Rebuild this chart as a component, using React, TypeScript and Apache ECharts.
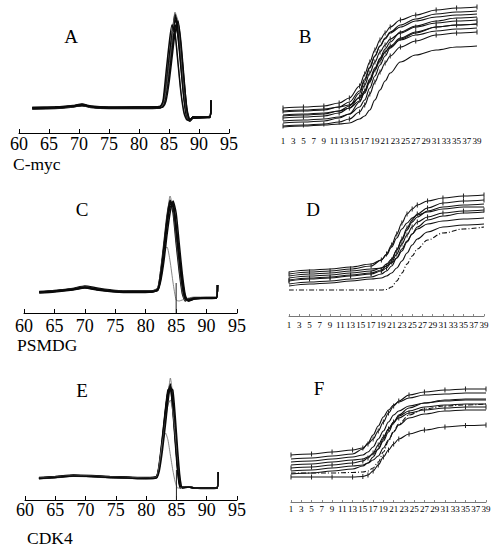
import React, { useEffect, useRef } from "react";
import * as echarts from "echarts";

// ---------- axis / marker constants ----------
const meltMin = 60;
const meltMax = 95;
const meltStep = 5;
const markerTemp = 85;
const markerHeight = 30;
const cycleMax = 39;

const panelLetters = ["A", "B", "C", "D", "E", "F"];
const geneNames = ["C-myc", "PSMDG", "CDK4"];

// ---------- melt curves (value = signal above axis) ----------
const tempsA = [62.2, 66, 69, 70.5, 72, 75, 80, 83.5, 84, 84.5, 85, 85.5, 86, 86.5, 87, 87.5, 88, 88.5, 89, 91.8, 92];
const curvesA = [
  [25, 25.5, 27, 28.5, 26.5, 25.5, 25.5, 26, 28, 45, 68, 93, 117, 104, 72, 40, 16, 13, 16, 16, 33],
  [24.5, 25, 26.5, 28, 26, 25, 25, 25.5, 27, 40, 62, 88, 112, 108, 80, 48, 20, 12, 15, 16, 32],
  [25.5, 26, 27.5, 29, 27, 26, 26, 26.5, 30, 50, 75, 100, 114, 96, 64, 33, 14, 12, 16, 16.5, 33],
  [24, 24.5, 26, 27.5, 25.5, 24.5, 24.5, 25, 27, 38, 58, 82, 106, 110, 86, 52, 24, 13, 15, 15.5, 32],
  [25, 25, 27, 28, 26, 25, 25, 25.5, 28.5, 46, 70, 96, 119, 108, 76, 42, 17, 12.5, 15.5, 16, 33],
  [25, 25.5, 26.5, 27.5, 26, 25, 25.5, 26, 29, 48, 72, 95, 108, 98, 68, 36, 15, 13, 16, 16, 33],
  [25, 25, 26, 27, 25.5, 25, 25, 25.5, 30, 55, 85, 102, 98, 70, 40, 22, 14, 13, 15.5, 16, 33],
  [25, 25.5, 27, 28, 26, 25.5, 25.5, 26, 27.5, 42, 66, 92, 121, 112, 78, 44, 18, 12, 15.5, 16, 33],
  [24.5, 25, 26.5, 27.5, 26, 25, 25, 25.5, 26, 32, 50, 75, 100, 112, 90, 55, 22, 13, 15, 16, 32],
  [25.5, 26, 27, 28.5, 26.5, 25.5, 26, 26.5, 32, 60, 88, 108, 100, 70, 40, 20, 13, 13, 16, 16, 33],
];
const greyA = [6, 7];

const tempsC = [62.5, 65, 68, 70, 72, 75, 78, 81, 82, 82.5, 83, 83.5, 84, 84.5, 85, 85.5, 86, 86.5, 87, 88, 90, 91.6, 91.8];
const curvesC = [
  [21, 22, 24, 26, 24, 22, 21.5, 21.5, 24, 40, 65, 92, 111, 105, 78, 50, 25, 13, 14, 15, 15, 15, 28],
  [20.5, 21.5, 23.5, 25.5, 23.5, 21.5, 21, 21, 23, 36, 60, 88, 108, 110, 85, 56, 30, 15, 13, 14.5, 15, 15, 28],
  [21.5, 22.5, 24.5, 27, 25, 22.5, 22, 22, 25, 44, 70, 97, 113, 100, 70, 42, 20, 12, 14, 15, 15.5, 15.5, 28],
  [21, 22, 24, 26.5, 24, 22, 21.5, 21.5, 24.5, 42, 68, 95, 117, 104, 74, 46, 22, 12, 13.5, 15, 15, 15, 28],
  [20, 21, 23, 25, 23, 21, 20.5, 21, 23.5, 38, 62, 90, 106, 107, 88, 60, 34, 16, 12, 14, 14.5, 15, 28],
  [21, 22, 24, 26, 24, 22, 21.5, 21.5, 26, 45, 62, 66, 52, 30, 13, 12, 13, 14, 15, 16, 16, 16, 28],
  [21, 22, 23.5, 25.5, 23.5, 21.5, 21, 21.5, 24, 41, 66, 93, 112, 108, 82, 54, 28, 14, 13, 15, 15, 15, 28],
  [21, 22, 24, 26, 24, 22, 21.5, 21.5, 23, 33, 52, 78, 100, 112, 100, 70, 40, 18, 12, 14, 15, 15, 28],
];
const greyC = [3, 5];

const tempsE = [62.3, 65, 68, 71, 74, 77, 80, 81.7, 82.2, 82.7, 83.2, 83.6, 84, 84.4, 84.8, 85.2, 85.6, 86, 87, 88, 90, 91.7, 91.9];
const curvesE = [
  [22, 23, 24.5, 24, 23, 22.5, 22, 23, 35, 60, 88, 108, 116, 96, 64, 34, 14, 13, 13, 12, 12, 12.5, 28],
  [21, 22, 23.5, 23, 22, 21.5, 21, 22, 32, 55, 82, 104, 122, 104, 72, 40, 17, 12, 13, 12, 11.5, 12, 28],
  [22.5, 23.5, 25, 24.5, 23.5, 23, 22.5, 23.5, 38, 64, 92, 110, 112, 90, 58, 28, 12, 13, 13, 12, 12, 12, 28],
  [21.5, 22.5, 24, 23.5, 22.5, 22, 21.5, 22.5, 34, 58, 85, 104, 114, 100, 70, 38, 16, 12, 13, 12, 11.5, 12, 28],
  [22, 23, 24.5, 24, 23, 22.5, 22, 23, 36, 62, 90, 107, 110, 92, 62, 32, 13, 13, 13, 12, 12, 12, 28],
  [21.5, 22.5, 24, 23.5, 22.5, 22, 21.5, 22.5, 38, 58, 67, 60, 45, 30, 18, 12, 12, 13, 13, 12, 12, 12, 28],
  [22, 23, 24.5, 24, 23, 22.5, 22, 23, 34, 56, 80, 95, 100, 88, 66, 42, 22, 12, 13, 12, 12, 12, 28],
  [21.5, 22.5, 24, 23.5, 22.5, 22, 21.5, 22, 30, 50, 76, 98, 112, 110, 84, 50, 22, 12, 13, 12, 12, 12, 28],
];
const greyE = [1, 5, 6];

// ---------- amplification curves ----------
const cyclesB = [1, 5, 9, 12, 14, 16, 17, 18, 19, 20, 21, 22, 24, 27, 31, 35, 39];
const curvesB = [
  [24, 25, 26, 29, 34, 46, 58, 70, 82, 92, 99, 105, 112, 117, 122, 124, 125],
  [20, 21, 22, 25, 30, 41, 53, 65, 76, 86, 93, 99, 105, 111, 115, 117, 118],
  [17, 18, 19, 21, 24, 31, 39, 50, 62, 74, 83, 90, 100, 106, 111, 114, 115],
  [14, 15, 16, 19, 24, 35, 47, 59, 70, 80, 87, 93, 99, 105, 109, 111, 112],
  [11, 12, 13, 15, 18, 25, 32, 44, 56, 67, 76, 84, 93, 99, 105, 107, 108],
  [9, 10, 11, 14, 18, 30, 41, 53, 64, 73, 80, 85, 92, 97, 101, 103, 104],
  [6, 7, 8, 10, 13, 20, 27, 38, 50, 60, 69, 76, 85, 91, 97, 99, 100],
  [5, 6, 7, 8, 9, 13, 16, 22, 32, 42, 51, 59, 70, 77, 82, 85, 86],
  [16, 17, 18, 21, 26, 39, 51, 64, 76, 86, 94, 100, 107, 113, 118, 120, 121],
  [21, 22, 23, 25, 27, 34, 41, 51, 62, 71, 80, 86, 94, 100, 105, 107, 108],
];
const marksB = [0, 3, 6, 9];

const cyclesD = [1, 5, 9, 13, 17, 19, 20, 21, 22, 23, 24, 25, 26, 28, 31, 35, 39];
const curvesD = [
  [42, 44, 45, 47, 50, 56, 62, 71, 82, 93, 102, 107, 111, 115, 118, 120, 121],
  [38, 40, 41, 43, 45, 48, 52, 57, 66, 76, 86, 94, 99, 105, 109, 111, 112],
  [35, 37, 38, 40, 42, 45, 48, 54, 62, 72, 81, 89, 94, 99, 103, 105, 106],
  [40, 42, 43, 45, 47, 48, 50, 53, 58, 65, 74, 82, 89, 96, 100, 103, 104],
  [32, 34, 35, 37, 39, 42, 45, 50, 58, 67, 75, 82, 87, 92, 95, 97, 98],
  [44, 46, 47, 49, 52, 56, 61, 69, 78, 87, 93, 98, 101, 104, 107, 109, 109],
  [26, 26, 26, 26, 26, 26, 26.5, 29, 35, 43, 52, 60, 67, 76, 83, 87, 89],
  [36, 38, 39, 41, 43, 46, 50, 56, 66, 77, 88, 96, 102, 108, 113, 115, 116],
  [30, 32, 33, 35, 37, 38, 40, 43, 48, 55, 63, 71, 77, 84, 89, 91, 92],
];
const marksD = [0, 2, 7];
const dashD = [6];

const cyclesF = [1, 5, 9, 13, 15, 16, 17, 18, 19, 20, 21, 22, 24, 27, 31, 35, 39];
const curvesF = [
  [47, 48, 50, 52, 54, 58, 63, 71, 80, 89, 96, 101, 107, 110, 112, 113, 113],
  [43, 44, 46, 48, 53, 59, 67, 76, 85, 92, 97, 100, 104, 107, 108, 109, 109],
  [40, 41, 43, 45, 47, 50, 55, 63, 71, 80, 87, 91, 96, 99, 101, 102, 102],
  [37, 38, 40, 42, 43, 45, 48, 53, 61, 70, 79, 87, 94, 99, 102, 103, 103],
  [34, 35, 37, 39, 41, 44, 49, 57, 65, 73, 80, 84, 89, 92, 94, 95, 95],
  [31, 32, 34, 36, 37, 39, 42, 46, 54, 62, 70, 77, 84, 88, 91, 92, 92],
  [28, 29, 31, 33, 36, 39, 45, 53, 63, 73, 80, 86, 91, 95, 97, 98, 98],
  [25, 25, 25, 25, 25.5, 27, 31, 37, 45, 52, 58, 63, 68, 72, 75, 76.5, 77],
  [29, 29, 29, 29.5, 30, 31, 34, 40, 50, 61, 71, 78, 87, 93, 96, 97, 98],
];
const marksF = [0, 4, 7];
const dashF = [8];

// ---------- layout ----------
const SERIF = '"Liberation Serif", "Times New Roman", "DejaVu Serif", serif';
const grids = [
  { left: 19, top: 10, width: 210, height: 123 }, // A
  { left: 283, top: 2, width: 194, height: 130 }, // B
  { left: 24, top: 190, width: 213, height: 123 }, // C
  { left: 289, top: 186, width: 195, height: 130 }, // D
  { left: 25, top: 377, width: 212, height: 123 }, // E
  { left: 291, top: 372, width: 195, height: 130 }, // F
];
const meltLabelMargin = [2, 0, 4, 0, 1, 0];
const ampLabelMargin = [0, 4, 0, 4, 0, 2];
const letterPos = [
  [71, 36], [305, 36], [82, 209], [313, 209], [82, 390], [319, 388],
];
const genePos = [
  [13, 164], [17, 345], [27, 538],
];

function meltSeries(gi: number, temps: number[], curves: number[][], grey: number[]) {
  return curves.map((vals, ci) => ({
    type: "line",
    xAxisIndex: gi,
    yAxisIndex: gi,
    data: temps.map((t, i) => [t, vals[i]]),
    showSymbol: false,
    symbol: "none",
    smooth: 0.2,
    silent: true,
    lineStyle: {
      color: grey.includes(ci) ? "#6a6a6a" : "#0a0a0a",
      width: grey.includes(ci) ? 0.8 : 1.5,
    },
  }));
}

function ampSeries(gi: number, cycles: number[], curves: number[][], marks: number[], dash: number[]) {
  return curves.map((vals, ci) => ({
    type: "line",
    xAxisIndex: gi,
    yAxisIndex: gi,
    data: cycles.map((c, i) => [c - 1, vals[i]]),
    symbol: "rect",
    symbolSize: [1, 5],
    showSymbol: marks.includes(ci),
    itemStyle: { color: "#222" },
    smooth: 0.35,
    smoothMonotone: "x",
    silent: true,
    lineStyle: {
      color: "#111",
      width: 1.1,
      type: dash.includes(ci) ? [5, 2, 1, 2] : "solid",
    },
  }));
}

function markerSeries(gi: number) {
  return {
    type: "line",
    xAxisIndex: gi,
    yAxisIndex: gi,
    data: [
      [markerTemp, 0],
      [markerTemp, markerHeight],
    ],
    symbol: "none",
    silent: true,
    lineStyle: { color: "#222", width: 1 },
  };
}

export default function App() {
  const ref = useRef<HTMLDivElement>(null);

  useEffect(() => {
    if (!ref.current) return;
    const chart = echarts.init(ref.current, null, { renderer: "svg" });

    const xAxis = grids.map((_, gi) => {
      const melt = gi % 2 === 0;
      if (melt) {
        return {
          type: "value",
          gridIndex: gi,
          min: meltMin,
          max: meltMax,
          interval: meltStep,
          axisLine: { show: true, lineStyle: { color: "#000", width: 1 } },
          axisTick: { show: true, inside: true, length: 4, lineStyle: { color: "#000" } },
          axisLabel: {
            color: "#000",
            fontFamily: SERIF,
            fontSize: 18,
            margin: meltLabelMargin[gi],
          },
          splitLine: { show: false },
        };
      }
      return {
        type: "value",
        gridIndex: gi,
        min: 0,
        max: cycleMax - 1,
        interval: 2,
        axisLine: { show: gi !== 1, lineStyle: { color: "#777", width: 1 } },
        axisTick: { show: gi !== 1, inside: true, length: 2, lineStyle: { color: "#888" } },
        axisLabel: {
          color: "#000",
          fontFamily: SERIF,
          fontSize: 9,
          margin: ampLabelMargin[gi],
          formatter: (v: number) => String(Math.round(v) + 1),
        },
        splitLine: { show: false },
      };
    });

    const yAxis = grids.map((g, gi) => ({
      type: "value",
      gridIndex: gi,
      min: 0,
      max: g.height,
      show: false,
      splitLine: { show: false },
    }));

    const graphic: any[] = [];
    panelLetters.forEach((t, i) => {
      graphic.push({
        type: "text",
        x: letterPos[i][0],
        y: letterPos[i][1],
        silent: true,
        style: {
          text: t,
          fontFamily: SERIF,
          fontSize: 19,
          fill: "#000",
          align: "center",
          verticalAlign: "middle",
          textAlign: "center",
          textVerticalAlign: "middle",
        },
      });
    });
    geneNames.forEach((t, i) => {
      graphic.push({
        type: "text",
        x: genePos[i][0],
        y: genePos[i][1],
        silent: true,
        style: {
          text: t,
          fontFamily: SERIF,
          fontSize: 17.5,
          fill: "#000",
          align: "left",
          verticalAlign: "middle",
          textAlign: "left",
          textVerticalAlign: "middle",
        },
      });
    });

    const series: any[] = [
      ...meltSeries(0, tempsA, curvesA, greyA),
      ...ampSeries(1, cyclesB, curvesB, marksB, []),
      ...meltSeries(2, tempsC, curvesC, greyC),
      markerSeries(2),
      ...ampSeries(3, cyclesD, curvesD, marksD, dashD),
      ...meltSeries(4, tempsE, curvesE, greyE),
      markerSeries(4),
      ...ampSeries(5, cyclesF, curvesF, marksF, dashF),
    ];

    chart.setOption({
      animation: false,
      backgroundColor: "#fff",
      grid: grids.map((g) => ({ ...g, containLabel: false, outerBoundsMode: "none" })),
      xAxis,
      yAxis,
      series,
      graphic,
    });

    return () => chart.dispose();
  }, []);

  return (
    <div
      ref={ref}
      style={{ position: "absolute", left: 0, top: 0, width: 499, height: 548, background: "#fff" }}
    />
  );
}
